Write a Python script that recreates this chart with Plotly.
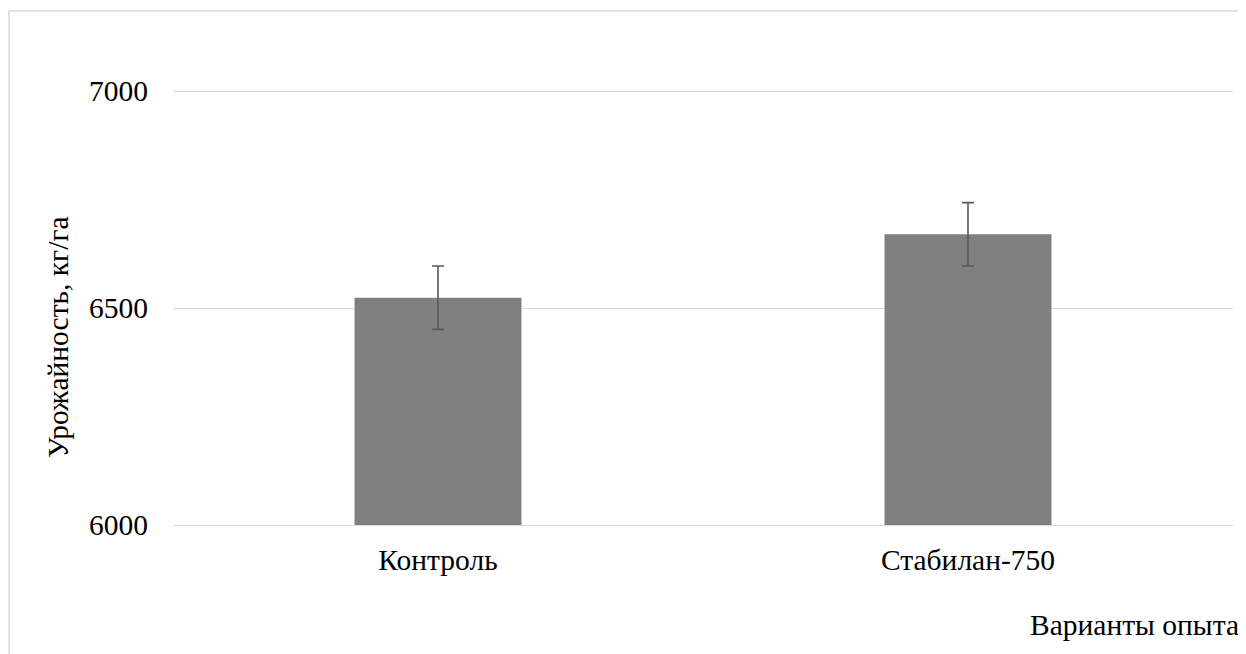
import plotly.graph_objects as go

categories = ["Контроль", "Стабилан-750"]
yields = [6524, 6670]
errors = [73, 73]
y_ticks = [6000, 6500, 7000]

OFF = 8  # default page body margin
W, H = 1246 - OFF, 654 - OFF
# plot area in screen pixels
X0s, X1s = 173, 1233
Y_TOP_VAL, Y_BOT_VAL = 7005, 6000
y7000_s, y6000_s = 90.7, 524.7
k = (y6000_s - y7000_s) / 1000.0
top_s = y7000_s - (Y_TOP_VAL - 7000) * k
bot_s = y6000_s + (6000 - Y_BOT_VAL) * k

L = X0s - OFF
R = W - (X1s - OFF)
T = round(top_s - OFF)
B = round(H - (bot_s - OFF))
pw, ph = W - L - R, H - T - B

def px(xs):
    return (xs - OFF - L) / pw

def py(ys):
    return (H - B - (ys - OFF)) / ph

FONT = "Liberation Serif, Times New Roman, serif"
FS = 29.5

fig = go.Figure()
fig.add_trace(go.Bar(
    x=categories, y=yields,
    marker=dict(color="#808080", line=dict(width=0)),
    error_y=dict(type="data", array=errors, visible=True,
                 color="#595959", thickness=1.6, width=6),
))

fig.update_layout(
    width=W, height=H,
    margin=dict(l=L, r=R, t=T, b=B, pad=0),
    paper_bgcolor="white", plot_bgcolor="white",
    bargap=0.685,
    showlegend=False,
    font=dict(family=FONT, size=FS, color="black"),
    xaxis=dict(showgrid=False, showline=True, linecolor="#d9d9d9",
               linewidth=1.3, zeroline=False,
               tickfont=dict(family=FONT, size=FS, color="black"),
               ticklabelstandoff=8),
    yaxis=dict(range=[Y_BOT_VAL, Y_TOP_VAL], tickvals=y_ticks,
               ticktext=[str(v) for v in y_ticks],
               showgrid=True, gridcolor="#d9d9d9", gridwidth=1.3,
               zeroline=False, showline=False,
               tickfont=dict(family=FONT, size=FS, color="black"),
               ticklabelstandoff=24),
    shapes=[dict(type="rect", xref="paper", yref="paper",
                 x0=px(9), x1=px(1270), y0=py(680), y1=py(11),
                 line=dict(color="#d9d9d9", width=1.5),
                 fillcolor="rgba(0,0,0,0)", layer="below")],
    annotations=[
        dict(text="Урожайность, кг/га", textangle=-90,
             xref="paper", yref="paper", x=px(58), y=py(337),
             xanchor="center", yanchor="middle", showarrow=False,
             font=dict(family=FONT, size=FS, color="black")),
        dict(text="Варианты опыта",
             xref="paper", yref="paper", x=px(1241), y=py(625),
             xanchor="right", yanchor="middle", showarrow=False,
             font=dict(family=FONT, size=FS, color="black")),
    ],
)

fig.write_html("out.html")
